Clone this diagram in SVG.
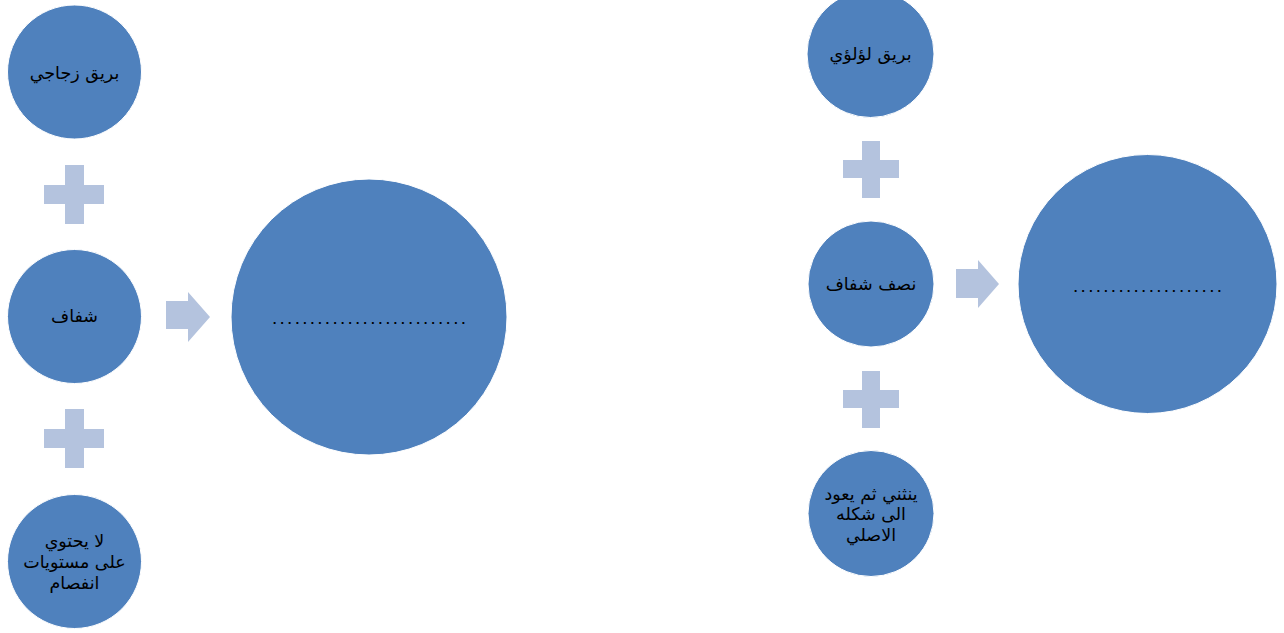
<svg xmlns="http://www.w3.org/2000/svg" width="1284" height="633" viewBox="0 0 1284 633">
  <style>
    .node { fill: #4F81BD; stroke: #ffffff; stroke-width: 1; }
    .sym { fill: #B4C3DE; }
    .lbl { font-family: "DejaVu Sans", "Liberation Sans", sans-serif; font-size: 17.5px; fill: #000000; text-anchor: middle; }
    .dots { font-family: "Liberation Sans", Arial, sans-serif; font-size: 19px; fill: #000000; }
  </style>

  <rect width="1284" height="633" fill="#ffffff"/>

  <!-- Left group: glassy lustre -->
  <g id="n-glassy">
    <circle class="node" cx="74.5" cy="72" r="67"/>
    <text class="lbl" x="74.5" y="79">بريق زجاجي</text>
  </g>
  <g id="n-transparent">
    <circle class="node" cx="74.5" cy="316.5" r="67"/>
    <text class="lbl" x="74.5" y="322">شفاف</text>
  </g>
  <g id="n-no-cleavage">
    <circle class="node" cx="74.5" cy="561.5" r="67"/>
    <text class="lbl" x="74.5" y="547">لا يحتوي</text>
    <text class="lbl" x="74.5" y="568">على مستويات</text>
    <text class="lbl" x="74.5" y="589">انفصام</text>
  </g>
  <g id="n-result-left">
    <circle class="node" cx="369" cy="317" r="138"/>
    <text class="dots" x="272" y="324" textLength="194" lengthAdjust="spacing">..........................</text>
  </g>

  <!-- Right group: pearly lustre -->
  <g id="n-pearly">
    <circle class="node" cx="870.5" cy="54" r="63.5"/>
    <text class="lbl" x="870.5" y="60">بريق لؤلؤي</text>
  </g>
  <g id="n-translucent">
    <circle class="node" cx="871" cy="284" r="63"/>
    <text class="lbl" x="871" y="290">نصف شفاف</text>
  </g>
  <g id="n-flexible">
    <circle class="node" cx="871" cy="513.5" r="63"/>
    <text class="lbl" x="871" y="500">ينثني ثم يعود</text>
    <text class="lbl" x="871" y="520">الى شكله</text>
    <text class="lbl" x="871" y="541">الاصلي</text>
  </g>
  <g id="n-result-right">
    <circle class="node" cx="1147.5" cy="284" r="129.5"/>
    <text class="dots" x="1073" y="292" textLength="149" lengthAdjust="spacing">....................</text>
  </g>

  <!-- Connectors: plus signs and arrows -->
  <g id="connectors">
    <path class="sym" d="M65 165 H84 V185 H104 V204 H84 V224 H65 V204 H44 V185 H65 Z"/>
    <path class="sym" d="M65 409 H84 V429 H104 V448 H84 V468 H65 V448 H44 V429 H65 Z"/>
    <path class="sym" d="M862 141 H880 V160 H899 V178 H880 V198 H862 V178 H843 V160 H862 Z"/>
    <path class="sym" d="M862 371 H880 V390 H899 V408 H880 V428 H862 V408 H843 V390 H862 Z"/>
    <path class="sym" d="M166 301 H188 V292 L210 317 L188 342 V329 H166 Z"/>
    <path class="sym" d="M956 269 H978 V260 L999 284 L978 308 V298 H956 Z"/>
  </g>
</svg>
